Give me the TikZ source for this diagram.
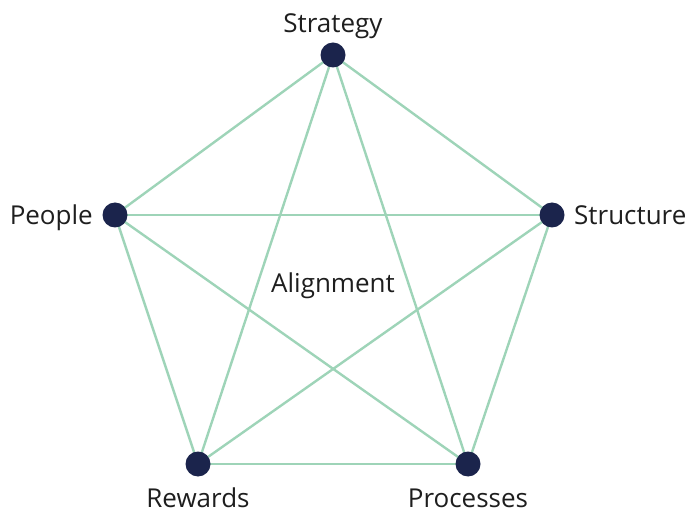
\documentclass[tikz,border=0pt]{standalone}
\usepackage{fontspec}
\setmainfont{Open Sans}
\definecolor{edgegreen}{RGB}{158,212,184}
\definecolor{dotnavy}{RGB}{27,36,76}
\definecolor{labelgray}{RGB}{30,30,30}
\begin{document}
\begin{tikzpicture}[x=1pt,y=-1pt,
  dot/.style={circle,fill=dotnavy,minimum size=25pt,inner sep=0pt},
  link/.style={draw=edgegreen,line width=2.4pt},
  lbl/.style={text=labelgray,font=\fontsize{26}{30}\selectfont,inner sep=0pt}]
\useasboundingbox (0,0) rectangle (688,510);
\coordinate (S) at (333,55);
\coordinate (P) at (115,215);
\coordinate (T) at (552,215);
\coordinate (R) at (198,464);
\coordinate (Q) at (468,464);
% every pair of dimensions is linked
\foreach \a/\b in {S/P,S/T,S/R,S/Q,P/T,P/R,P/Q,T/R,T/Q,R/Q}
  \draw[link] (\a) -- (\b);
\node[dot] (ns) at (S) {};
\node[dot] (np) at (P) {};
\node[dot] (nt) at (T) {};
\node[dot] (nr) at (R) {};
\node[dot] (nq) at (Q) {};
\node[lbl,anchor=base] (ls) at (333,33) {Strategy};
\node[lbl,anchor=base east] (lp) at (93,225) {People};
\node[lbl,anchor=base west] (lt) at (574,225) {Structure};
\node[lbl,anchor=base] (lr) at (198,507) {Rewards};
\node[lbl,anchor=base] (lq) at (468,507) {Processes};
\node[lbl,anchor=base] (la) at (333,293) {Alignment};
\end{tikzpicture}
\end{document}
